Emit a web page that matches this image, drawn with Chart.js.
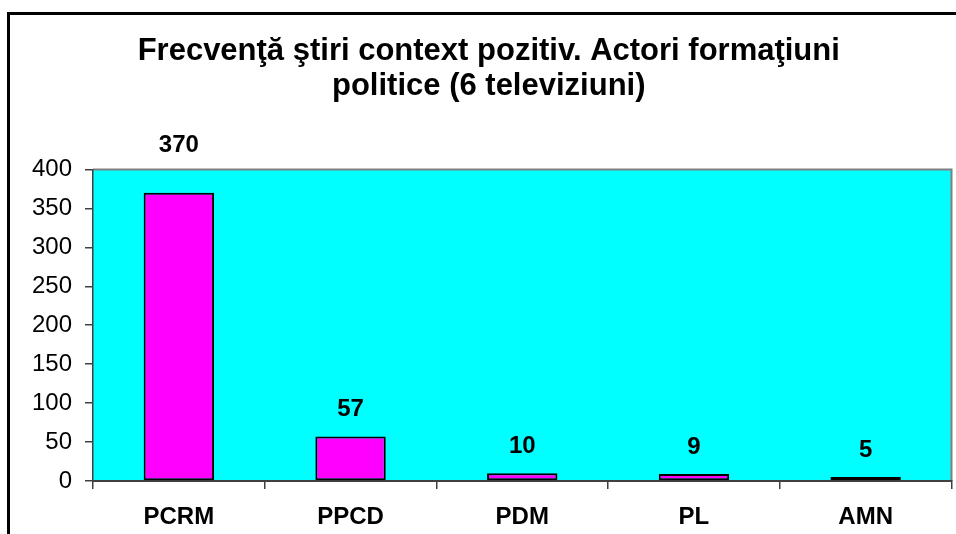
<!DOCTYPE html>
<html>
<head>
<meta charset="utf-8">
<script src="https://cdn.jsdelivr.net/npm/chart.js@4.4.0/dist/chart.umd.min.js"></script>
<style>
  html, body { margin: 0; padding: 0; background: #fff; }
  #wrap { width: 956px; height: 534px; }
</style>
</head>
<body>
<div id="wrap"><canvas id="bar-chart" width="956" height="534"></canvas></div>
<script>
// chart data
const categories = ["PCRM", "PPCD", "PDM", "PL", "AMN"];
const values = [370, 57, 10, 9, 5];
const yTicks = [0, 50, 100, 150, 200, 250, 300, 350, 400];
const titleLines = ["Frecvenţă ştiri context pozitiv. Actori formaţiuni", "politice (6 televiziuni)"];

const FONT = "'Liberation Sans', Arial, sans-serif";

// outer frame + cyan plot background
const framePlugin = {
  id: "frame",
  beforeDraw(chart) {
    const ctx = chart.ctx, a = chart.chartArea;
    ctx.save();
    ctx.strokeStyle = "#000";
    ctx.lineWidth = 3;
    ctx.strokeRect(8.5, 13.5, 1200, 1200);
    ctx.fillStyle = "#00FFFF";
    ctx.fillRect(a.left, a.top, a.right - a.left, a.bottom - a.top);
    ctx.strokeStyle = "#808080";
    ctx.lineWidth = 2;
    ctx.beginPath();
    ctx.moveTo(a.left, a.top);
    ctx.lineTo(a.right, a.top);
    ctx.lineTo(a.right, a.bottom);
    ctx.stroke();
    ctx.restore();
  }
};

// value labels above bars (pushed above the plot if the bar is too tall)
const labelPlugin = {
  id: "valueLabels",
  afterDatasetsDraw(chart) {
    const ctx = chart.ctx, a = chart.chartArea;
    const meta = chart.getDatasetMeta(0);
    ctx.save();
    ctx.font = "bold 24px " + FONT;
    ctx.fillStyle = "#000";
    ctx.textAlign = "center";
    ctx.textBaseline = "middle";
    meta.data.forEach((bar, i) => {
      let y = bar.y - 27;
      if (y < a.top + 12) y = a.top - 24;
      ctx.fillText(String(values[i]), bar.x, y);
    });
    ctx.restore();
  }
};

new Chart(document.getElementById("bar-chart"), {
  type: "bar",
  data: {
    labels: categories,
    datasets: [{
      data: values,
      backgroundColor: "#FF00FF",
      borderColor: "#000",
      borderWidth: 2,
      borderSkipped: false,
      barPercentage: 0.41,
      categoryPercentage: 1
    }]
  },
  options: {
    responsive: false,
    animation: false,
    layout: { padding: { left: 26, right: 4.5, top: 0, bottom: 0 } },
    plugins: {
      legend: { display: false },
      tooltip: { enabled: false },
      title: {
        display: true,
        text: titleLines,
        color: "#000",
        font: { family: FONT, size: 31, weight: "bold", lineHeight: 1.12 },
        padding: { top: 34, bottom: 66 }
      }
    },
    scales: {
      y: {
        min: 0,
        max: 400,
        afterBuildTicks(scale) { scale.ticks = yTicks.map(v => ({ value: v })); },
        afterFit(scale) { scale.width = 67; },
        ticks: { color: "#000", padding: 13, font: { family: FONT, size: 24 } },
        grid: { drawOnChartArea: false, drawTicks: true, tickLength: 8, color: "#404040", lineWidth: 1.5 },
        border: { color: "#404040", width: 1.5 }
      },
      x: {
        afterFit(scale) { scale.height = 53; },
        ticks: { color: "#000", padding: 14, font: { family: FONT, size: 24, weight: "bold" } },
        grid: { offset: true, drawOnChartArea: false, drawTicks: true, tickLength: 8, color: "#404040", lineWidth: 1.5 },
        border: { color: "#404040", width: 2 }
      }
    }
  },
  plugins: [framePlugin, labelPlugin]
});
</script>
</body>
</html>
